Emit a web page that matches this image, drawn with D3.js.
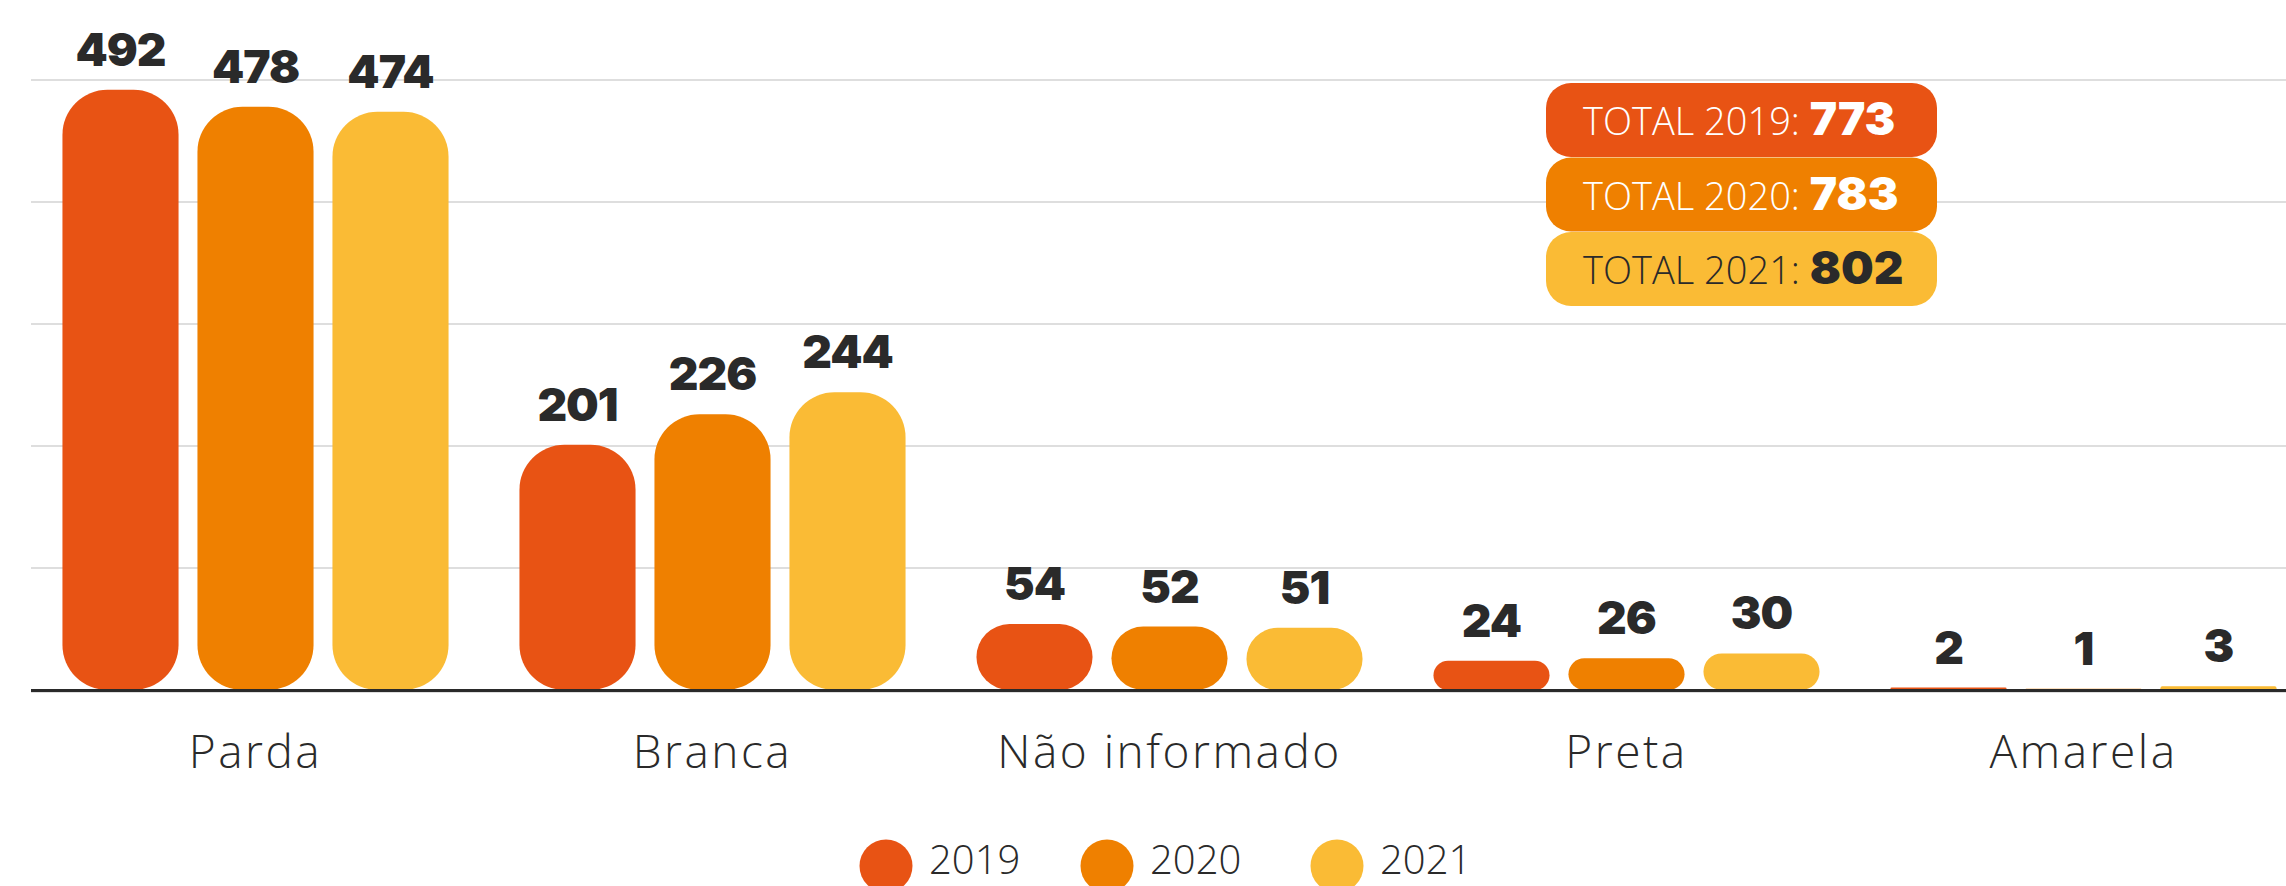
<!DOCTYPE html>
<html>
<head>
<meta charset="utf-8">
<script src="https://cdn.jsdelivr.net/npm/d3@7"></script>
<style>
  html, body { margin: 0; padding: 0; background: #fff; }
  svg { display: block; }
</style>
</head>
<body>
<div id="chart"></div>
<script>
// Data
var categories = ['Parda', 'Branca', 'Não informado', 'Preta', 'Amarela'];
var years = ['2019', '2020', '2021'];
var values2019 = [492, 201, 54, 24, 2];
var values2020 = [478, 226, 52, 26, 1];
var values2021 = [474, 244, 51, 30, 3];
var yTicks = [0, 100, 200, 300, 400, 500];

var series = [values2019, values2020, values2021];
var colors = ['#E85314', '#EF8000', '#FABB35'];
var totalTextColors = ['#ffffff', '#ffffff', '#2a2a2a'];
var dark = '#2a2a2a';

var width = 2286;
var height = 886;
var plotLeft = 31;

// Scales
var x0 = d3.scaleBand()
  .domain(categories)
  .range([27, 2312]);

var x1 = d3.scaleBand()
  .domain(years)
  .range([0, 405])
  .paddingInner(0.14)
  .paddingOuter(0.07);

var y = d3.scaleLinear()
  .domain([0, 500])
  .range([690, 80]);

var svg = d3.select('#chart')
  .append('svg')
  .attr('width', width)
  .attr('height', height);

// Gridlines
svg.append('g')
  .selectAll('line')
  .data(yTicks)
  .enter()
  .append('line')
  .attr('x1', plotLeft)
  .attr('x2', width)
  .attr('y1', function(d) { return d === 0 ? y(d) + 2 : y(d); })
  .attr('y2', function(d) { return d === 0 ? y(d) + 2 : y(d); })
  .attr('stroke', '#dedede')
  .attr('stroke-width', 2);

// Bars, one group per category
var groups = svg.append('g')
  .selectAll('g')
  .data(categories)
  .enter()
  .append('g')
  .attr('transform', function(d) {
    return 'translate(' + (x0(d) + x0.bandwidth() / 2 - 202.5) + ',0)';
  });

groups.selectAll('rect')
  .data(function(d, i) {
    return years.map(function(yr, j) {
      return { year: yr, value: series[j][i], color: colors[j] };
    });
  })
  .enter()
  .append('rect')
  .attr('x', function(d) { return x1(d.year); })
  .attr('y', function(d) { return y(d.value); })
  .attr('width', x1.bandwidth())
  .attr('height', function(d) { return y(0) - y(d.value); })
  .attr('rx', function(d) { return Math.min(45, (y(0) - y(d.value)) / 2); })
  .attr('fill', function(d) { return d.color; });

// Value labels
groups.selectAll('text')
  .data(function(d, i) {
    return years.map(function(yr, j) {
      return { year: yr, value: series[j][i] };
    });
  })
  .enter()
  .append('text')
  .attr('x', function(d) { return x1(d.year) + x1.bandwidth() / 2; })
  .attr('y', function(d) { return y(d.value) - 24; })
  .attr('text-anchor', 'middle')
  .attr('font-family', 'Inter, sans-serif')
  .attr('font-weight', 900)
  .attr('font-size', 46)
  .attr('letter-spacing', -1)
  .attr('fill', dark)
  .text(function(d) { return d.value; });

// Baseline
svg.append('line')
  .attr('x1', plotLeft)
  .attr('x2', width)
  .attr('y1', y(0) + 0.5)
  .attr('y2', y(0) + 0.5)
  .attr('stroke', dark)
  .attr('stroke-width', 3);

// Category axis
var xAxis = svg.append('g')
  .attr('transform', 'translate(0,' + y(0) + ')')
  .call(d3.axisBottom(x0).tickSize(0).tickPadding(0));
xAxis.select('.domain').remove();
xAxis.selectAll('text')
  .attr('dy', null)
  .attr('y', 78)
  .attr('font-family', '"Open Sans", sans-serif')
  .attr('font-weight', 300)
  .attr('font-size', 46)
  .attr('letter-spacing', 2.5)
  .attr('fill', dark);

// Totals boxes
var totals = series.map(function(s) { return d3.sum(s); });
var boxes = svg.append('g')
  .selectAll('g')
  .data(years)
  .enter()
  .append('g')
  .attr('transform', function(d, i) { return 'translate(1546,' + (83 + i * 74.5) + ')'; });

boxes.append('rect')
  .attr('width', 391)
  .attr('height', 74)
  .attr('rx', 25)
  .attr('fill', function(d, i) { return colors[i]; });

var boxText = boxes.append('text')
  .attr('x', 37)
  .attr('y', 52)
  .attr('font-family', '"Open Sans", sans-serif')
  .attr('fill', function(d, i) { return totalTextColors[i]; });

boxText.append('tspan')
  .attr('font-weight', 300)
  .attr('font-size', 38)
  .text(function(d) { return 'TOTAL ' + d + ': '; });

boxText.append('tspan')
  .attr('font-family', 'Inter, sans-serif')
  .attr('font-weight', 900)
  .attr('font-size', 46)
  .text(function(d, i) { return totals[i]; });

// Legend
var legendX = [886, 1107, 1337];
var legend = svg.append('g')
  .selectAll('g')
  .data(years)
  .enter()
  .append('g')
  .attr('transform', function(d, i) { return 'translate(' + legendX[i] + ',866)'; });

legend.append('circle')
  .attr('r', 26.5)
  .attr('fill', function(d, i) { return colors[i]; });

legend.append('text')
  .attr('x', 43)
  .attr('y', 8)
  .attr('font-family', '"Open Sans", sans-serif')
  .attr('font-weight', 300)
  .attr('font-size', 40)
  .attr('fill', dark)
  .text(function(d) { return d; });
</script>
</body>
</html>
